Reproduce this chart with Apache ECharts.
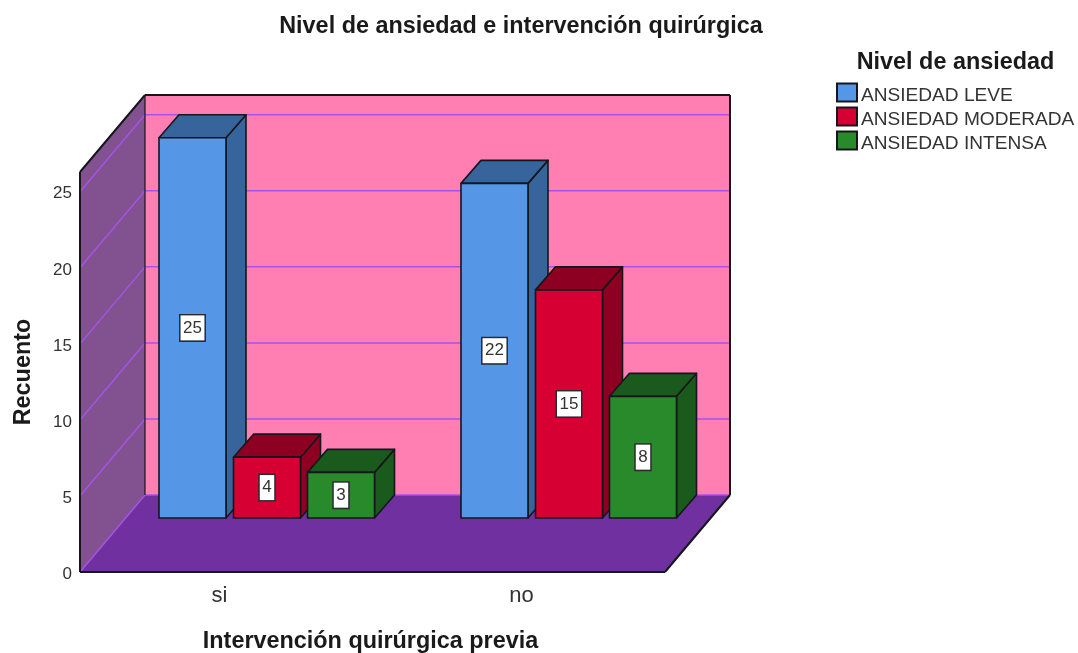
<!DOCTYPE html>
<html>
<head>
<meta charset="utf-8">
<style>html,body{margin:0;padding:0;background:#fff}#c{width:1078px;height:653px}</style>
<script src="https://cdn.jsdelivr.net/npm/echarts@6/dist/echarts.min.js"></script>
</head>
<body>
<div id="c"></div>
<script>
const categories = ['si', 'no'];
const yTicks = [0, 5, 10, 15, 20, 25];
const leve = [25, 22];
const moderada = [4, 15];
const intensa = [3, 8];
const seriesNames = ['ANSIEDAD LEVE', 'ANSIEDAD MODERADA', 'ANSIEDAD INTENSA'];

const FONT = '"Liberation Sans", Arial, sans-serif';
const EDGE = '#16161c';
const WALL = {back: '#ff7fb2', left: '#825290', floor: '#7030a0', grid: '#a652e6'};
// box depth of the room and of the bars (pixels)
const ROOM = {left: 11.5, width: 585, dx: 65, dy: -77};
const BAR = {width: 67, dx: 20, dy: -23, planeDy: -54};
const OFFSETS = [-60.5, 14, 88];
const PALETTE = [
  {front: '#5596e6', side: '#36649b'},
  {front: '#d60032', side: '#8d0021'},
  {front: '#288a2b', side: '#1a5a1c'}
];

function renderRoom(params, api) {
  const g = params.coordSys;
  const x0 = g.x + ROOM.left, x1 = x0 + ROOM.width;
  const yb = api.coord([0, 0])[1];
  const yt = g.y;
  const d = ROOM.dx, e = ROOM.dy;
  const children = [];
  const poly = (pts, fill) => ({type: 'polygon', shape: {points: pts}, style: {fill, stroke: null}});
  const line = (a, b, stroke, w) => ({type: 'line', shape: {x1: a[0], y1: a[1], x2: b[0], y2: b[1]}, style: {stroke, lineWidth: w}});
  children.push(poly([[x0 + d, yt + e], [x1 + d, yt + e], [x1 + d, yb + e], [x0 + d, yb + e]], WALL.back));
  children.push(poly([[x0, yb], [x0 + d, yb + e], [x0 + d, yt + e], [x0, yt]], WALL.left));
  children.push(poly([[x0, yb], [x1, yb], [x1 + d, yb + e], [x0 + d, yb + e]], WALL.floor));
  yTicks.forEach(t => {
    const y = api.coord([0, t])[1];
    children.push(line([x0, y], [x0 + d, y + e], WALL.grid, 1.5));
    children.push(line([x0 + d, y + e], [x1 + d, y + e], WALL.grid, 1.5));
  });
  children.push(line([x0, yb], [x0, yt], EDGE, 2));
  children.push(line([x0, yt], [x0 + d, yt + e], EDGE, 2));
  children.push(line([x0 + d, yt + e], [x1 + d, yt + e], EDGE, 2));
  children.push(line([x0 + d, yt + e], [x0 + d, yb + e], EDGE, 1.2));
  children.push(line([x1 + d, yt + e], [x1 + d, yb + e], EDGE, 2));
  children.push(line([x1 + d, yb + e], [x1, yb], EDGE, 2));
  children.push(line([x1, yb], [x0, yb], EDGE, 2));
  return {type: 'group', children};
}

function makeBarRenderer(idx) {
  return function (params, api) {
    const c = api.value(0), v = api.value(1);
    const base = api.coord([c, 0]);
    const top = api.coord([c, v]);
    const x = base[0] + OFFSETS[idx];
    const yb = base[1] + BAR.planeDy;
    const yt = top[1] + BAR.planeDy;
    const w = BAR.width, d = BAR.dx, e = BAR.dy;
    const col = PALETTE[idx];
    const st = fill => ({fill, stroke: EDGE, lineWidth: 1.6, lineJoin: 'round'});
    return {
      type: 'group',
      children: [
        {type: 'polygon', shape: {points: [[x + w, yb], [x + w + d, yb + e], [x + w + d, yt + e], [x + w, yt]]}, style: st(col.side)},
        {type: 'polygon', shape: {points: [[x, yt], [x + w, yt], [x + w + d, yt + e], [x + d, yt + e]]}, style: st(col.side)},
        {type: 'rect', shape: {x, y: yt, width: w, height: yb - yt}, style: st(col.front)},
        {type: 'text', style: {
          text: String(v), x: x + w / 2, y: (yt + yb) / 2, align: 'center', verticalAlign: 'middle',
          font: '17px ' + FONT, fill: '#333', backgroundColor: '#fff',
          borderColor: '#2a2a30', borderWidth: 1.5, padding: [4, 2.5, 4, 2.5]
        }}
      ]
    };
  };
}

const pairs = arr => arr.map((v, i) => [i, v]);

const chart = echarts.init(document.getElementById('c'), null, {renderer: 'canvas'});
chart.setOption({
  animation: false,
  backgroundColor: '#fff',
  title: [
    {text: 'Nivel de ansiedad e intervención quirúrgica', left: 516, top: 10, textAlign: 'center',
     textStyle: {fontFamily: FONT, fontSize: 23.4, fontWeight: 'bold', color: '#1a1a1a'}},
    {text: 'Nivel de ansiedad', left: 950.5, top: 46, textAlign: 'center',
     textStyle: {fontFamily: FONT, fontSize: 23.4, fontWeight: 'bold', color: '#1a1a1a'}}
  ],
  legend: {
    orient: 'vertical', left: 831, top: 75, itemWidth: 20, itemHeight: 18, itemGap: -1,
    selectedMode: false, icon: 'rect', data: seriesNames,
    formatter: '{a|{name}}',
    textStyle: {fontFamily: FONT, fontSize: 19.1, color: '#333',
      rich: {a: {fontFamily: FONT, fontSize: 19.1, color: '#333', lineHeight: 20, padding: [6, 0, 0, -1]}}}
  },
  grid: {left: 68.5, width: 604, top: 172, height: 400, outerBoundsMode: 'none'},
  xAxis: {
    type: 'category', data: categories,
    name: 'Intervención quirúrgica previa', nameLocation: 'middle', nameGap: 58,
    nameTextStyle: {fontFamily: FONT, fontSize: 23.4, fontWeight: 'bold', color: '#1a1a1a'},
    axisLine: {show: false}, axisTick: {show: false},
    axisLabel: {fontFamily: FONT, fontSize: 22, color: '#333', margin: 13},
    splitLine: {show: false}
  },
  yAxis: {
    type: 'value', min: 0, max: 26.3, interval: 5, offset: -11.5,
    name: 'Recuento', nameLocation: 'middle', nameGap: 45, nameRotate: 90,
    nameTextStyle: {fontFamily: FONT, fontSize: 23.4, fontWeight: 'bold', color: '#1a1a1a'},
    axisLine: {show: false}, axisTick: {show: false},
    axisLabel: {fontFamily: FONT, fontSize: 17, color: '#333', margin: 8, showMaxLabel: false, verticalAlign: 'top', lineHeight: 4},
    splitLine: {show: false}
  },
  series: [
    {type: 'custom', name: 'room', silent: true, data: [[0, 0]], renderItem: renderRoom, encode: {x: 0, y: 1}, clip: false, z: 1},
    {type: 'custom', name: seriesNames[0], data: pairs(leve), renderItem: makeBarRenderer(0), encode: {x: 0, y: 1}, clip: false, z: 2,
     itemStyle: {color: PALETTE[0].front, borderColor: EDGE, borderWidth: 1.6}},
    {type: 'custom', name: seriesNames[1], data: pairs(moderada), renderItem: makeBarRenderer(1), encode: {x: 0, y: 1}, clip: false, z: 3,
     itemStyle: {color: PALETTE[1].front, borderColor: EDGE, borderWidth: 1.6}},
    {type: 'custom', name: seriesNames[2], data: pairs(intensa), renderItem: makeBarRenderer(2), encode: {x: 0, y: 1}, clip: false, z: 4,
     itemStyle: {color: PALETTE[2].front, borderColor: EDGE, borderWidth: 1.6}}
  ]
});
</script>
</body>
</html>
